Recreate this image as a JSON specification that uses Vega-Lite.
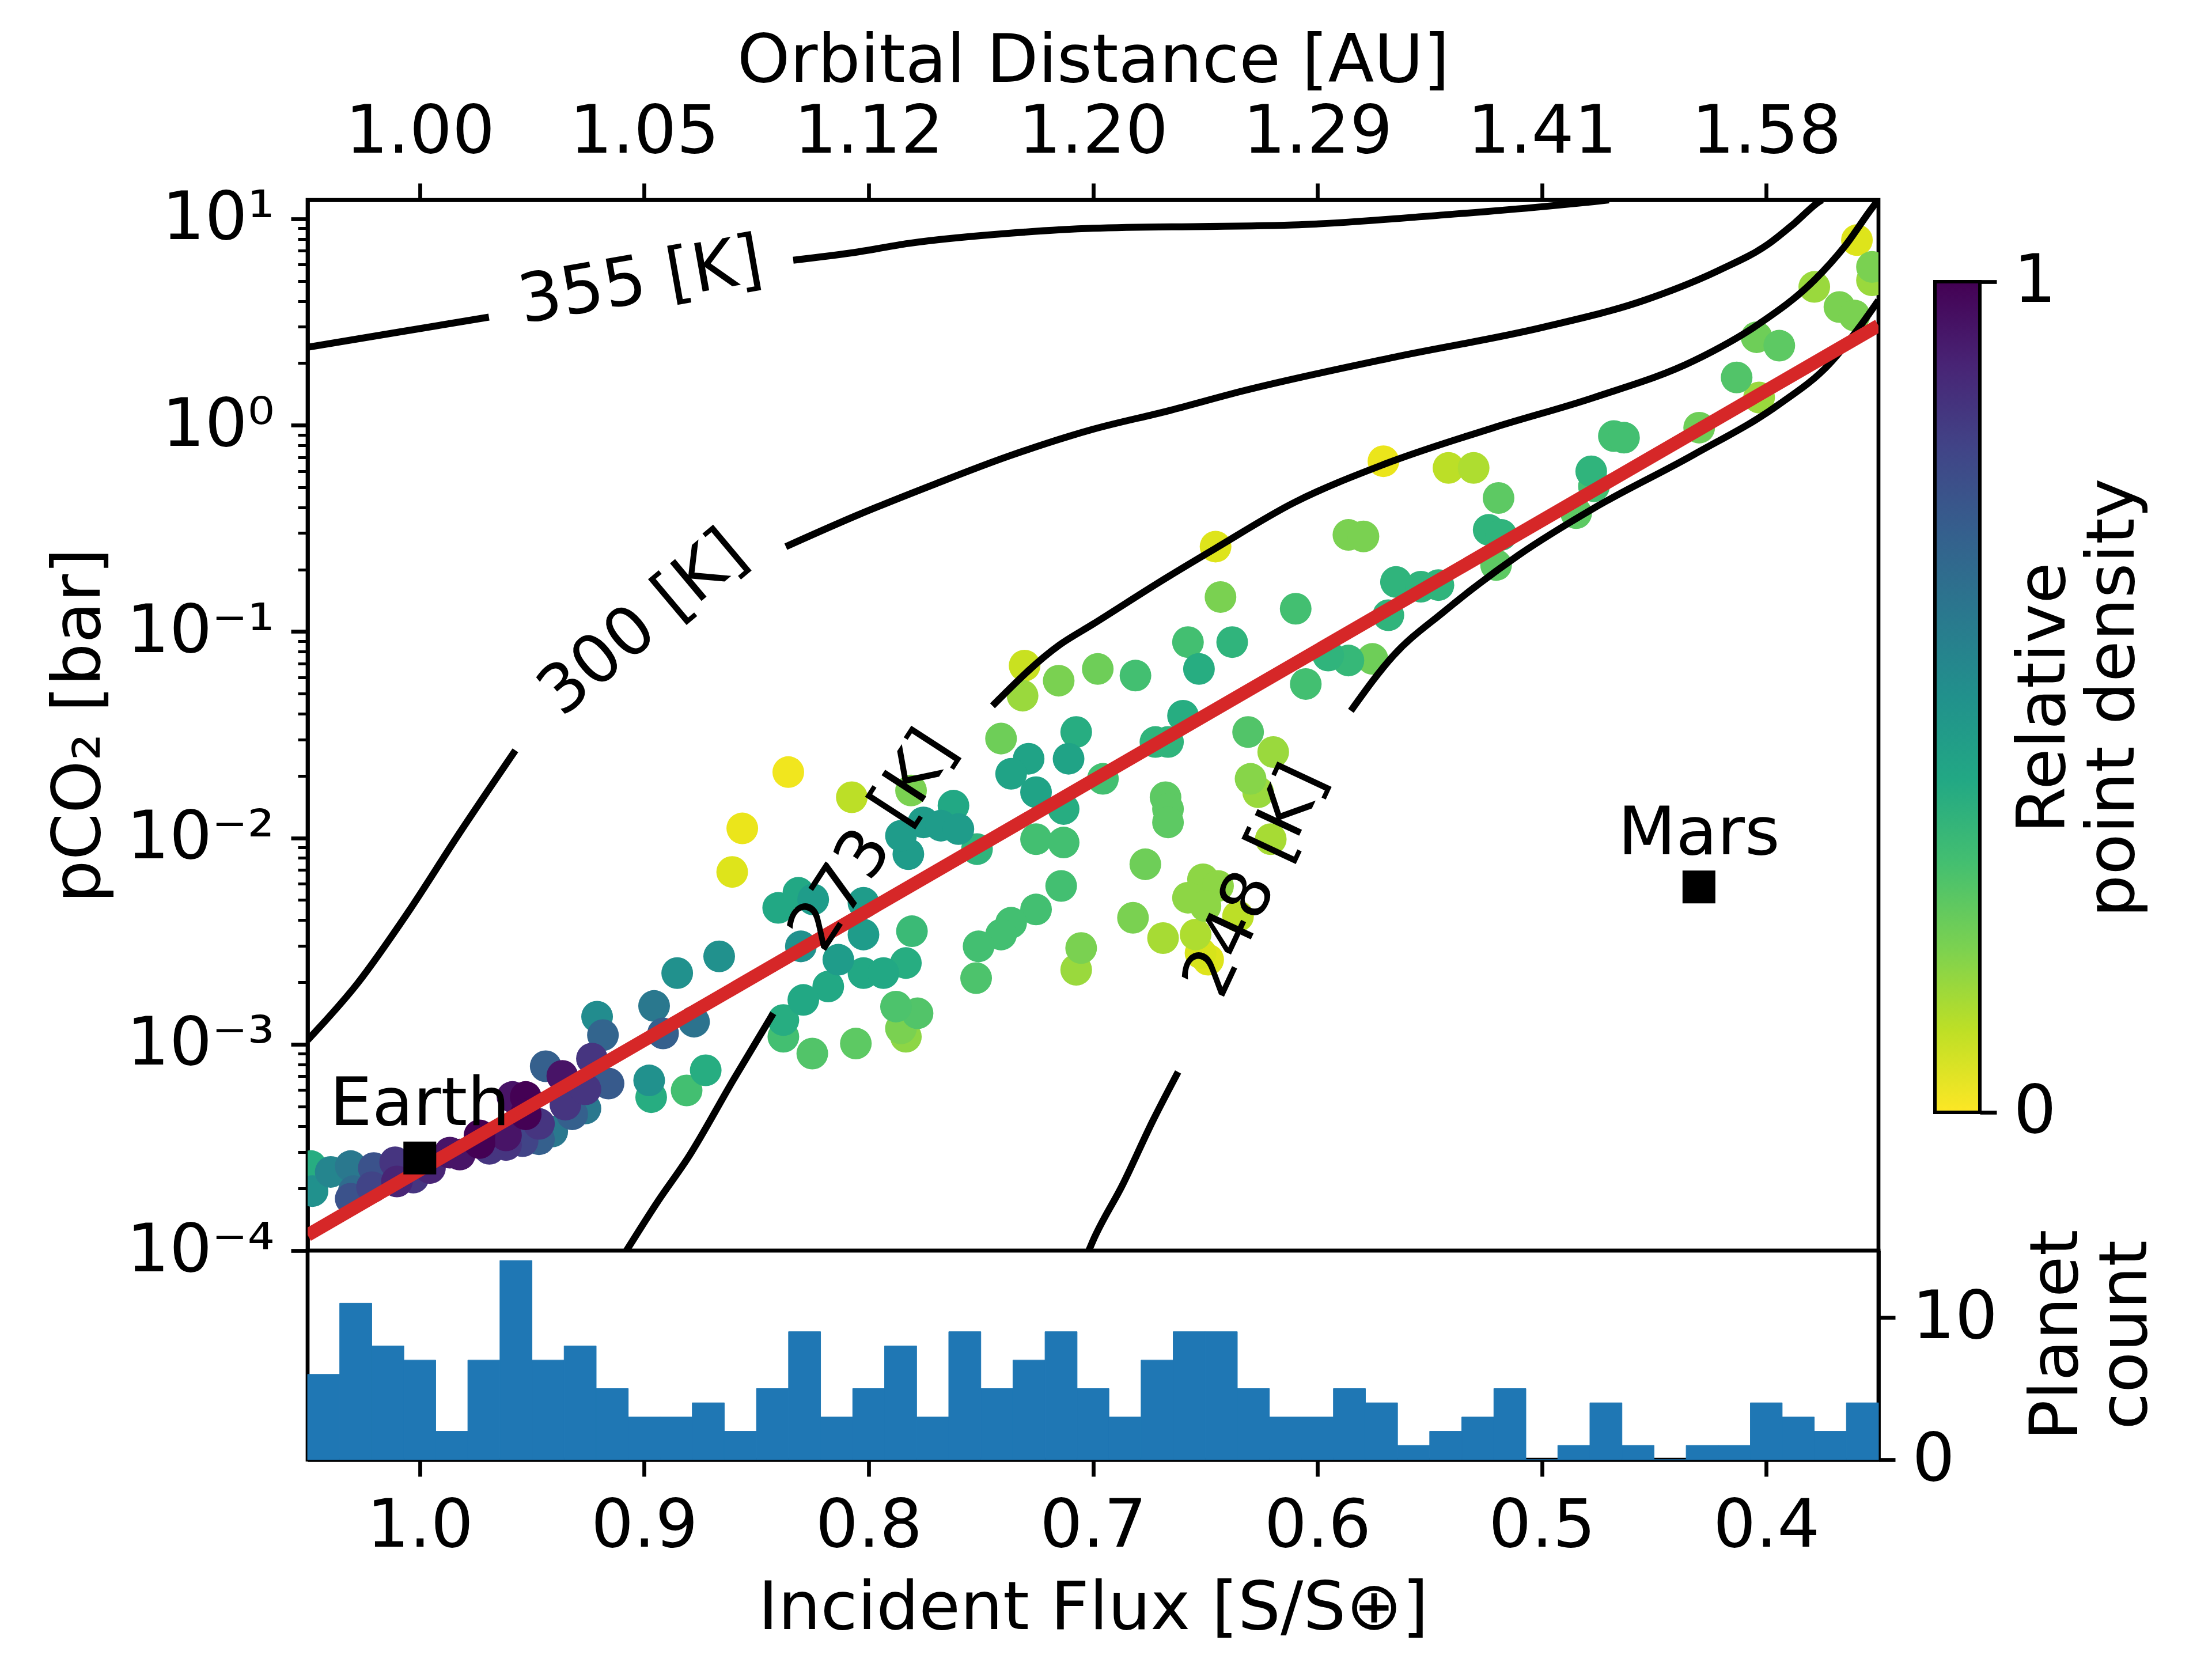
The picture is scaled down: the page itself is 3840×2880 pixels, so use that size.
{
  "$schema": "https://vega.github.io/schema/vega-lite/v6.json",
  "background": "white",
  "padding": {"left": 75, "top": 44, "right": 5, "bottom": 5},
  "columns": 2,
  "spacing": {"row": 0, "column": 98},
  "bounds": "flush",
  "align": "each",
  "config": {
    "font": "DejaVu Sans",
    "view": {"stroke": "black", "strokeWidth": 6.7},
    "axis": {
      "labelFont": "DejaVu Sans", "titleFont": "DejaVu Sans",
      "labelFontSize": 116.7, "titleFontSize": 116.7, "titleFontWeight": "normal",
      "labelColor": "black", "titleColor": "black", "tickColor": "black", "domainColor": "black",
      "tickWidth": 6.7, "domainWidth": 6.7, "tickSize": 29, "labelPadding": 29,
      "labelLimit": 0, "titleLimit": 0,
      "grid": false, "labelFlush": false, "labelOverlap": false, "zindex": 1
    },
    "text": {"font": "DejaVu Sans"}
  },
  "datasets": {
    "points": [
      {"flux": 1.0485, "pco2": 0.0002567, "density": 0.38},
      {"flux": 1.0478, "pco2": 0.0001943, "density": 0.5},
      {"flux": 1.0397, "pco2": 0.0002406, "density": 0.55},
      {"flux": 1.0308, "pco2": 0.0002567, "density": 0.6},
      {"flux": 1.0294, "pco2": 0.0001943, "density": 0.65},
      {"flux": 1.0308, "pco2": 0.0001783, "density": 0.75},
      {"flux": 1.0205, "pco2": 0.0002513, "density": 0.75},
      {"flux": 1.0213, "pco2": 0.0002029, "density": 0.8},
      {"flux": 1.011, "pco2": 0.000268, "density": 0.85},
      {"flux": 1.0102, "pco2": 0.0002163, "density": 0.9},
      {"flux": 1.0029, "pco2": 0.0002258, "density": 0.85},
      {"flux": 0.9955, "pco2": 0.0002513, "density": 0.9},
      {"flux": 0.9866, "pco2": 0.0002983, "density": 0.95},
      {"flux": 0.9822, "pco2": 0.000292, "density": 0.95},
      {"flux": 0.9734, "pco2": 0.0003617, "density": 1.0},
      {"flux": 0.9734, "pco2": 0.000332, "density": 1.0},
      {"flux": 0.969, "pco2": 0.0003113, "density": 0.85},
      {"flux": 0.9616, "pco2": 0.0003249, "density": 0.85},
      {"flux": 0.9616, "pco2": 0.0003617, "density": 0.95},
      {"flux": 0.9587, "pco2": 0.0005553, "density": 0.95},
      {"flux": 0.9528, "pco2": 0.0005553, "density": 1.0},
      {"flux": 0.9528, "pco2": 0.0004577, "density": 1.0},
      {"flux": 0.9469, "pco2": 0.0004112, "density": 0.85},
      {"flux": 0.9469, "pco2": 0.0003465, "density": 0.7},
      {"flux": 0.9542, "pco2": 0.0003392, "density": 0.8},
      {"flux": 0.941, "pco2": 0.0003776, "density": 0.6},
      {"flux": 0.9439, "pco2": 0.0007823, "density": 0.7},
      {"flux": 0.9365, "pco2": 0.0007026, "density": 0.95},
      {"flux": 0.9351, "pco2": 0.0005095, "density": 0.85},
      {"flux": 0.9321, "pco2": 0.0004577, "density": 0.7},
      {"flux": 0.9262, "pco2": 0.0004882, "density": 0.6},
      {"flux": 0.9233, "pco2": 0.000852, "density": 0.85},
      {"flux": 0.9262, "pco2": 0.000605, "density": 0.85},
      {"flux": 0.9159, "pco2": 0.000645, "density": 0.72},
      {"flux": 0.9184, "pco2": 0.001107, "density": 0.68},
      {"flux": 0.921, "pco2": 0.00136, "density": 0.52},
      {"flux": 0.8956, "pco2": 0.001533, "density": 0.6},
      {"flux": 0.8916, "pco2": 0.001128, "density": 0.7},
      {"flux": 0.8778, "pco2": 0.001286, "density": 0.62},
      {"flux": 0.8853, "pco2": 0.002212, "density": 0.5},
      {"flux": 0.8666, "pco2": 0.002666, "density": 0.5},
      {"flux": 0.8978, "pco2": 0.000668, "density": 0.5},
      {"flux": 0.8969, "pco2": 0.000554, "density": 0.38},
      {"flux": 0.8811, "pco2": 0.000597, "density": 0.3},
      {"flux": 0.8726, "pco2": 0.000748, "density": 0.38},
      {"flux": 0.8358, "pco2": 0.02084, "density": 0.02},
      {"flux": 0.8075, "pco2": 0.01574, "density": 0.1},
      {"flux": 0.8563, "pco2": 0.01112, "density": 0.03},
      {"flux": 0.8608, "pco2": 0.00684, "density": 0.05},
      {"flux": 0.7811, "pco2": 0.01697, "density": 0.2},
      {"flux": 0.8403, "pco2": 0.00458, "density": 0.4},
      {"flux": 0.8313, "pco2": 0.00542, "density": 0.4},
      {"flux": 0.8247, "pco2": 0.00503, "density": 0.45},
      {"flux": 0.8302, "pco2": 0.002981, "density": 0.5},
      {"flux": 0.8023, "pco2": 0.00485, "density": 0.45},
      {"flux": 0.8023, "pco2": 0.0034, "density": 0.45},
      {"flux": 0.8135, "pco2": 0.002568, "density": 0.45},
      {"flux": 0.8023, "pco2": 0.002212, "density": 0.4},
      {"flux": 0.7934, "pco2": 0.002212, "density": 0.4},
      {"flux": 0.7834, "pco2": 0.002474, "density": 0.38},
      {"flux": 0.818, "pco2": 0.001904, "density": 0.4},
      {"flux": 0.8291, "pco2": 0.00164, "density": 0.4},
      {"flux": 0.838, "pco2": 0.00131, "density": 0.38},
      {"flux": 0.838, "pco2": 0.001087, "density": 0.3},
      {"flux": 0.8251, "pco2": 0.000901, "density": 0.27},
      {"flux": 0.8057, "pco2": 0.001008, "density": 0.25},
      {"flux": 0.7878, "pco2": 0.001522, "density": 0.28},
      {"flux": 0.7782, "pco2": 0.001412, "density": 0.27},
      {"flux": 0.7856, "pco2": 0.001193, "density": 0.2},
      {"flux": 0.7834, "pco2": 0.001087, "density": 0.17},
      {"flux": 0.7807, "pco2": 0.00353, "density": 0.32},
      {"flux": 0.7823, "pco2": 0.00834, "density": 0.45},
      {"flux": 0.7856, "pco2": 0.01024, "density": 0.45},
      {"flux": 0.7756, "pco2": 0.01189, "density": 0.45},
      {"flux": 0.7678, "pco2": 0.01146, "density": 0.45},
      {"flux": 0.7622, "pco2": 0.01433, "density": 0.4},
      {"flux": 0.76, "pco2": 0.01103, "density": 0.45},
      {"flux": 0.7517, "pco2": 0.00882, "density": 0.35},
      {"flux": 0.741, "pco2": 0.0303, "density": 0.22},
      {"flux": 0.7287, "pco2": 0.02419, "density": 0.42},
      {"flux": 0.7365, "pco2": 0.02045, "density": 0.42},
      {"flux": 0.7254, "pco2": 0.01665, "density": 0.42},
      {"flux": 0.7109, "pco2": 0.02419, "density": 0.42},
      {"flux": 0.7075, "pco2": 0.0326, "density": 0.38},
      {"flux": 0.7131, "pco2": 0.01381, "density": 0.38},
      {"flux": 0.7254, "pco2": 0.00986, "density": 0.3},
      {"flux": 0.7131, "pco2": 0.0095, "density": 0.3},
      {"flux": 0.7142, "pco2": 0.00585, "density": 0.3},
      {"flux": 0.7254, "pco2": 0.0045, "density": 0.3},
      {"flux": 0.7365, "pco2": 0.00388, "density": 0.3},
      {"flux": 0.741, "pco2": 0.0034, "density": 0.3},
      {"flux": 0.751, "pco2": 0.002981, "density": 0.3},
      {"flux": 0.7521, "pco2": 0.002091, "density": 0.28},
      {"flux": 0.7053, "pco2": 0.002926, "density": 0.2},
      {"flux": 0.7075, "pco2": 0.002295, "density": 0.15},
      {"flux": 0.7305, "pco2": 0.0684, "density": 0.08},
      {"flux": 0.7314, "pco2": 0.0489, "density": 0.15},
      {"flux": 0.7153, "pco2": 0.0578, "density": 0.2},
      {"flux": 0.3596, "pco2": 7.89, "density": 0.05},
      {"flux": 0.3529, "pco2": 5.85, "density": 0.2},
      {"flux": 0.3529, "pco2": 5.04, "density": 0.15},
      {"flux": 0.3786, "pco2": 4.68, "density": 0.15},
      {"flux": 0.3674, "pco2": 3.74, "density": 0.2},
      {"flux": 0.3607, "pco2": 3.4, "density": 0.2},
      {"flux": 0.4043, "pco2": 2.67, "density": 0.22},
      {"flux": 0.3942, "pco2": 2.43, "density": 0.25},
      {"flux": 0.4132, "pco2": 1.704, "density": 0.27},
      {"flux": 0.4032, "pco2": 1.362, "density": 0.15},
      {"flux": 0.4299, "pco2": 0.973, "density": 0.22},
      {"flux": 0.4679, "pco2": 0.886, "density": 0.3},
      {"flux": 0.4634, "pco2": 0.87, "density": 0.3},
      {"flux": 0.478, "pco2": 0.598, "density": 0.35},
      {"flux": 0.4768, "pco2": 0.506, "density": 0.3},
      {"flux": 0.4847, "pco2": 0.375, "density": 0.25},
      {"flux": 0.5706, "pco2": 0.669, "density": 0.03},
      {"flux": 0.5416, "pco2": 0.621, "density": 0.1},
      {"flux": 0.5304, "pco2": 0.621, "density": 0.12},
      {"flux": 0.5193, "pco2": 0.444, "density": 0.25},
      {"flux": 0.5237, "pco2": 0.311, "density": 0.35},
      {"flux": 0.5181, "pco2": 0.294, "density": 0.35},
      {"flux": 0.5204, "pco2": 0.21, "density": 0.25},
      {"flux": 0.6454, "pco2": 0.258, "density": 0.05},
      {"flux": 0.5862, "pco2": 0.294, "density": 0.2},
      {"flux": 0.5795, "pco2": 0.289, "density": 0.2},
      {"flux": 0.6432, "pco2": 0.147, "density": 0.2},
      {"flux": 0.6097, "pco2": 0.129, "density": 0.3},
      {"flux": 0.565, "pco2": 0.174, "density": 0.35},
      {"flux": 0.5539, "pco2": 0.165, "density": 0.35},
      {"flux": 0.5461, "pco2": 0.168, "density": 0.35},
      {"flux": 0.5684, "pco2": 0.12, "density": 0.35},
      {"flux": 0.6577, "pco2": 0.0889, "density": 0.3},
      {"flux": 0.638, "pco2": 0.0889, "density": 0.35},
      {"flux": 0.6528, "pco2": 0.0659, "density": 0.38},
      {"flux": 0.6811, "pco2": 0.0612, "density": 0.3},
      {"flux": 0.6979, "pco2": 0.0659, "density": 0.22},
      {"flux": 0.5952, "pco2": 0.0765, "density": 0.35},
      {"flux": 0.5862, "pco2": 0.0724, "density": 0.33},
      {"flux": 0.5755, "pco2": 0.0737, "density": 0.22},
      {"flux": 0.6052, "pco2": 0.0557, "density": 0.3},
      {"flux": 0.6599, "pco2": 0.0391, "density": 0.38},
      {"flux": 0.6722, "pco2": 0.02917, "density": 0.35},
      {"flux": 0.6666, "pco2": 0.02917, "density": 0.35},
      {"flux": 0.6956, "pco2": 0.01933, "density": 0.3},
      {"flux": 0.6309, "pco2": 0.0326, "density": 0.27},
      {"flux": 0.6197, "pco2": 0.02607, "density": 0.15},
      {"flux": 0.6298, "pco2": 0.01933, "density": 0.18},
      {"flux": 0.6264, "pco2": 0.01665, "density": 0.15},
      {"flux": 0.6677, "pco2": 0.01574, "density": 0.25},
      {"flux": 0.6666, "pco2": 0.01381, "density": 0.25},
      {"flux": 0.6666, "pco2": 0.01189, "density": 0.25},
      {"flux": 0.6767, "pco2": 0.00745, "density": 0.22},
      {"flux": 0.6208, "pco2": 0.00986, "density": 0.13},
      {"flux": 0.651, "pco2": 0.0063, "density": 0.17},
      {"flux": 0.6443, "pco2": 0.00585, "density": 0.17},
      {"flux": 0.6577, "pco2": 0.00513, "density": 0.17},
      {"flux": 0.6499, "pco2": 0.00467, "density": 0.17},
      {"flux": 0.6354, "pco2": 0.00417, "density": 0.1},
      {"flux": 0.6822, "pco2": 0.0041, "density": 0.2},
      {"flux": 0.6688, "pco2": 0.00327, "density": 0.13},
      {"flux": 0.6543, "pco2": 0.0034, "density": 0.12},
      {"flux": 0.6521, "pco2": 0.002767, "density": 0.06},
      {"flux": 0.6487, "pco2": 0.002568, "density": 0.05}
    ],
    "contours": [
      {"seg": "355a", "ord": 1, "flux": 1.05, "pco2": 2.386},
      {"seg": "355a", "ord": 2, "flux": 1.0098, "pco2": 2.823},
      {"seg": "355a", "ord": 3, "flux": 0.9692, "pco2": 3.341},
      {"seg": "355b", "ord": 1, "flux": 0.8336, "pco2": 6.306},
      {"seg": "355b", "ord": 2, "flux": 0.8046, "pco2": 6.92},
      {"seg": "355b", "ord": 3, "flux": 0.7823, "pco2": 7.6},
      {"seg": "355b", "ord": 4, "flux": 0.7376, "pco2": 8.51},
      {"seg": "355b", "ord": 5, "flux": 0.7001, "pco2": 9.0},
      {"seg": "355b", "ord": 6, "flux": 0.6108, "pco2": 9.34},
      {"seg": "355b", "ord": 7, "flux": 0.5438, "pco2": 10.45},
      {"seg": "355b", "ord": 8, "flux": 0.4992, "pco2": 11.47},
      {"seg": "355b", "ord": 9, "flux": 0.4768, "pco2": 12.13},
      {"seg": "355b", "ord": 10, "flux": 0.4701, "pco2": 12.36},
      {"seg": "300a", "ord": 1, "flux": 1.05, "pco2": 0.001047},
      {"seg": "300a", "ord": 2, "flux": 1.0277, "pco2": 0.001976},
      {"seg": "300a", "ord": 3, "flux": 1.0054, "pco2": 0.004333},
      {"seg": "300a", "ord": 4, "flux": 0.9831, "pco2": 0.01024},
      {"seg": "300a", "ord": 5, "flux": 0.9574, "pco2": 0.02656},
      {"seg": "300b", "ord": 1, "flux": 0.8369, "pco2": 0.258},
      {"seg": "300b", "ord": 2, "flux": 0.8046, "pco2": 0.3681},
      {"seg": "300b", "ord": 3, "flux": 0.7711, "pco2": 0.5153},
      {"seg": "300b", "ord": 4, "flux": 0.7376, "pco2": 0.7079},
      {"seg": "300b", "ord": 5, "flux": 0.7001, "pco2": 0.955},
      {"seg": "300b", "ord": 6, "flux": 0.6666, "pco2": 1.173},
      {"seg": "300b", "ord": 7, "flux": 0.6331, "pco2": 1.467},
      {"seg": "300b", "ord": 8, "flux": 0.5661, "pco2": 2.133},
      {"seg": "300b", "ord": 9, "flux": 0.4992, "pco2": 2.987},
      {"seg": "300b", "ord": 10, "flux": 0.4545, "pco2": 4.027},
      {"seg": "300b", "ord": 11, "flux": 0.421, "pco2": 5.638},
      {"seg": "300b", "ord": 12, "flux": 0.3987, "pco2": 7.6},
      {"seg": "300b", "ord": 13, "flux": 0.3875, "pco2": 9.51},
      {"seg": "300b", "ord": 14, "flux": 0.3764, "pco2": 12.13},
      {"seg": "300b", "ord": 15, "flux": 0.3752, "pco2": 12.36},
      {"seg": "273a", "ord": 1, "flux": 0.9079, "pco2": 0.0001},
      {"seg": "273a", "ord": 2, "flux": 0.8938, "pco2": 0.000174},
      {"seg": "273a", "ord": 3, "flux": 0.8804, "pco2": 0.0002828},
      {"seg": "273a", "ord": 4, "flux": 0.8604, "pco2": 0.0006683},
      {"seg": "273a", "ord": 5, "flux": 0.8425, "pco2": 0.001412},
      {"seg": "273b", "ord": 1, "flux": 0.7448, "pco2": 0.0437},
      {"seg": "273b", "ord": 2, "flux": 0.7153, "pco2": 0.0856},
      {"seg": "273b", "ord": 3, "flux": 0.7001, "pco2": 0.1085},
      {"seg": "273b", "ord": 4, "flux": 0.6666, "pco2": 0.1842},
      {"seg": "273b", "ord": 5, "flux": 0.6454, "pco2": 0.2532},
      {"seg": "273b", "ord": 6, "flux": 0.6108, "pco2": 0.4196},
      {"seg": "273b", "ord": 7, "flux": 0.5706, "pco2": 0.6447},
      {"seg": "273b", "ord": 8, "flux": 0.5215, "pco2": 0.9728},
      {"seg": "273b", "ord": 9, "flux": 0.4768, "pco2": 1.362},
      {"seg": "273b", "ord": 10, "flux": 0.4322, "pco2": 2.054},
      {"seg": "273b", "ord": 11, "flux": 0.4032, "pco2": 3.1},
      {"seg": "273b", "ord": 12, "flux": 0.3786, "pco2": 5.04},
      {"seg": "273b", "ord": 13, "flux": 0.3652, "pco2": 7.32},
      {"seg": "273b", "ord": 14, "flux": 0.3518, "pco2": 11.69},
      {"seg": "273b", "ord": 15, "flux": 0.35, "pco2": 12.36},
      {"seg": "248a", "ord": 1, "flux": 0.7019, "pco2": 0.0001},
      {"seg": "248a", "ord": 2, "flux": 0.7001, "pco2": 0.0001111},
      {"seg": "248a", "ord": 3, "flux": 0.6867, "pco2": 0.0002098},
      {"seg": "248a", "ord": 4, "flux": 0.6733, "pco2": 0.0004267},
      {"seg": "248a", "ord": 5, "flux": 0.6621, "pco2": 0.000734},
      {"seg": "248b", "ord": 1, "flux": 0.5851, "pco2": 0.0413},
      {"seg": "248b", "ord": 2, "flux": 0.5661, "pco2": 0.0766},
      {"seg": "248b", "ord": 3, "flux": 0.5438, "pco2": 0.1245},
      {"seg": "248b", "ord": 4, "flux": 0.5103, "pco2": 0.235},
      {"seg": "248b", "ord": 5, "flux": 0.4768, "pco2": 0.3965},
      {"seg": "248b", "ord": 6, "flux": 0.4322, "pco2": 0.7211},
      {"seg": "248b", "ord": 7, "flux": 0.3942, "pco2": 1.264},
      {"seg": "248b", "ord": 8, "flux": 0.3719, "pco2": 1.979},
      {"seg": "248b", "ord": 9, "flux": 0.3585, "pco2": 2.987},
      {"seg": "248b", "ord": 10, "flux": 0.35, "pco2": 4.027}
    ],
    "clabels": [
      {"T": "355 [K]", "flux": 0.9016, "pco2": 4.95},
      {"T": "300 [K]", "flux": 0.9005, "pco2": 0.1092},
      {"T": "273 [K]", "flux": 0.7979, "pco2": 0.00968},
      {"T": "248 [K]", "flux": 0.6275, "pco2": 0.00618}
    ],
    "fit": [
      {"flux": 1.05, "pco2": 0.000119},
      {"flux": 0.35, "pco2": 3.04}
    ],
    "planets": [
      {"name": "Earth", "flux": 1.0, "pco2": 0.000281},
      {"name": "Mars", "flux": 0.43, "pco2": 0.00578}
    ],
    "hist": [
      {"b0": 1.05, "b1": 1.0357, "count": 6},
      {"b0": 1.0357, "b1": 1.0214, "count": 11},
      {"b0": 1.0214, "b1": 1.0071, "count": 8},
      {"b0": 1.0071, "b1": 0.9929, "count": 7},
      {"b0": 0.9929, "b1": 0.9786, "count": 2},
      {"b0": 0.9786, "b1": 0.9643, "count": 7},
      {"b0": 0.9643, "b1": 0.95, "count": 14},
      {"b0": 0.95, "b1": 0.9357, "count": 7},
      {"b0": 0.9357, "b1": 0.9214, "count": 8},
      {"b0": 0.9214, "b1": 0.9071, "count": 5},
      {"b0": 0.9071, "b1": 0.8929, "count": 3},
      {"b0": 0.8929, "b1": 0.8786, "count": 3},
      {"b0": 0.8786, "b1": 0.8643, "count": 4},
      {"b0": 0.8643, "b1": 0.85, "count": 2},
      {"b0": 0.85, "b1": 0.8357, "count": 5},
      {"b0": 0.8357, "b1": 0.8214, "count": 9},
      {"b0": 0.8214, "b1": 0.8071, "count": 3},
      {"b0": 0.8071, "b1": 0.7929, "count": 5},
      {"b0": 0.7929, "b1": 0.7786, "count": 8},
      {"b0": 0.7786, "b1": 0.7643, "count": 3},
      {"b0": 0.7643, "b1": 0.75, "count": 9},
      {"b0": 0.75, "b1": 0.7357, "count": 5},
      {"b0": 0.7357, "b1": 0.7214, "count": 7},
      {"b0": 0.7214, "b1": 0.7071, "count": 9},
      {"b0": 0.7071, "b1": 0.6929, "count": 5},
      {"b0": 0.6929, "b1": 0.6786, "count": 3},
      {"b0": 0.6786, "b1": 0.6643, "count": 7},
      {"b0": 0.6643, "b1": 0.65, "count": 9},
      {"b0": 0.65, "b1": 0.6357, "count": 9},
      {"b0": 0.6357, "b1": 0.6214, "count": 5},
      {"b0": 0.6214, "b1": 0.6071, "count": 3},
      {"b0": 0.6071, "b1": 0.5929, "count": 3},
      {"b0": 0.5929, "b1": 0.5786, "count": 5},
      {"b0": 0.5786, "b1": 0.5643, "count": 4},
      {"b0": 0.5643, "b1": 0.55, "count": 1},
      {"b0": 0.55, "b1": 0.5357, "count": 2},
      {"b0": 0.5357, "b1": 0.5214, "count": 3},
      {"b0": 0.5214, "b1": 0.5071, "count": 5},
      {"b0": 0.5071, "b1": 0.4929, "count": 0},
      {"b0": 0.4929, "b1": 0.4786, "count": 1},
      {"b0": 0.4786, "b1": 0.4643, "count": 4},
      {"b0": 0.4643, "b1": 0.45, "count": 1},
      {"b0": 0.45, "b1": 0.4357, "count": 0},
      {"b0": 0.4357, "b1": 0.4214, "count": 1},
      {"b0": 0.4214, "b1": 0.4071, "count": 1},
      {"b0": 0.4071, "b1": 0.3929, "count": 4},
      {"b0": 0.3929, "b1": 0.3786, "count": 3},
      {"b0": 0.3786, "b1": 0.3643, "count": 2},
      {"b0": 0.3643, "b1": 0.35, "count": 4}
    ]
  },
  "concat": [
    {
      "width": 2727,
      "height": 1824,
      "encoding": {
        "x": {
          "field": "flux", "type": "quantitative",
          "scale": {"domain": [0.35, 1.05], "reverse": true, "nice": false, "zero": false},
          "axis": {
            "orient": "top", "title": "Orbital Distance [AU]",
            "values": [1.0, 0.9, 0.8, 0.7, 0.6, 0.5, 0.4],
            "labelExpr": "format(1/sqrt(datum.value), '.2f')",
            "titlePadding": 5
          }
        },
        "y": {
          "field": "pco2", "type": "quantitative",
          "scale": {"type": "log", "domain": [0.0001, 12.36], "nice": false},
          "axis": {
            "title": "pCO₂ [bar]",
            "values": [0.0001, 0.0002, 0.0003, 0.0004, 0.0005, 0.0006, 0.0007, 0.0008, 0.0009,
                       0.001, 0.002, 0.003, 0.004, 0.005, 0.006, 0.007, 0.008, 0.009,
                       0.01, 0.02, 0.03, 0.04, 0.05, 0.06, 0.07, 0.08, 0.09,
                       0.1, 0.2, 0.3, 0.4, 0.5, 0.6, 0.7, 0.8, 0.9,
                       1, 2, 3, 4, 5, 6, 7, 8, 9, 10],
            "labelExpr": "abs(log(datum.value)/LN10 - round(log(datum.value)/LN10)) < 0.001 ? '10' + replace(replace(replace(replace(replace(replace('' + round(log(datum.value)/LN10), '-', '⁻'), '0', '⁰'), '1', '¹'), '2', '²'), '3', '³'), '4', '⁴') : ''",
            "tickSize": {"condition": {"test": "abs(log(datum.value)/LN10 - round(log(datum.value)/LN10)) < 0.001", "value": 29}, "value": 17},
            "tickWidth": {"condition": {"test": "abs(log(datum.value)/LN10 - round(log(datum.value)/LN10)) < 0.001", "value": 6.7}, "value": 5},
            "titlePadding": 137
          }
        }
      },
      "layer": [
        {
          "data": {"name": "points"},
          "mark": {"type": "circle", "size": 3025, "opacity": 1, "clip": true},
          "encoding": {
            "color": {"field": "density", "type": "quantitative", "scale": {"scheme": "viridis", "reverse": true, "domain": [0, 1]}, "legend": null},
            "order": {"field": "density", "type": "quantitative"}
          }
        },
        {
          "data": {"name": "contours"},
          "mark": {"type": "line", "color": "black", "strokeWidth": 12, "interpolate": "monotone", "clip": true},
          "encoding": {
            "detail": {"field": "seg", "type": "nominal"},
            "order": {"field": "ord", "type": "quantitative"}
          }
        },
        {
          "data": {"name": "fit"},
          "mark": {"type": "line", "color": "#d62728", "strokeWidth": 23, "clip": true},
          "encoding": {}
        },
        {
          "data": {"name": "planets"},
          "mark": {"type": "point", "shape": "square", "filled": true, "color": "black", "size": 3250, "opacity": 1},
          "encoding": {}
        },
        {
          "data": {"name": "planets"},
          "mark": {"type": "text", "align": "center", "baseline": "alphabetic", "dy": -57, "fontSize": 116.7, "color": "black"},
          "encoding": {"text": {"field": "name"}}
        },
        {
          "data": {"name": "clabels"},
          "transform": [{"filter": "datum.T == '355 [K]'"}],
          "mark": {"type": "text", "align": "center", "baseline": "middle", "angle": 350, "fontSize": 116.7, "color": "black"},
          "encoding": {"text": {"field": "T"}}
        },
        {
          "data": {"name": "clabels"},
          "transform": [{"filter": "datum.T == '300 [K]'"}],
          "mark": {"type": "text", "align": "center", "baseline": "middle", "angle": 320, "fontSize": 116.7, "color": "black"},
          "encoding": {"text": {"field": "T"}}
        },
        {
          "data": {"name": "clabels"},
          "transform": [{"filter": "datum.T == '273 [K]'"}],
          "mark": {"type": "text", "align": "center", "baseline": "middle", "angle": 303, "fontSize": 116.7, "color": "black"},
          "encoding": {"text": {"field": "T"}}
        },
        {
          "data": {"name": "clabels"},
          "transform": [{"filter": "datum.T == '248 [K]'"}],
          "mark": {"type": "text", "align": "center", "baseline": "middle", "angle": 295, "fontSize": 116.7, "color": "black"},
          "encoding": {"text": {"field": "T"}}
        }
      ]
    },
    {
      "width": 78,
      "height": 1824,
      "view": {"stroke": null},
      "data": {"values": [{"d0": 0, "d1": 1}]},
      "mark": {
        "type": "rect",
        "fill": {
          "gradient": "linear", "x1": 0, "y1": 0, "x2": 0, "y2": 1,
          "stops": [
            {"offset": 0, "color": "#440154"},
            {"offset": 0.1, "color": "#482475"},
            {"offset": 0.2, "color": "#414487"},
            {"offset": 0.3, "color": "#355f8d"},
            {"offset": 0.4, "color": "#2a788e"},
            {"offset": 0.5, "color": "#21918c"},
            {"offset": 0.6, "color": "#22a884"},
            {"offset": 0.7, "color": "#44bf70"},
            {"offset": 0.8, "color": "#7ad151"},
            {"offset": 0.9, "color": "#bddf26"},
            {"offset": 1, "color": "#fde725"}
          ]
        },
        "stroke": "black",
        "strokeWidth": 6
      },
      "encoding": {
        "x": {"field": "d0", "type": "quantitative", "scale": {"domain": [0, 1], "nice": false, "zero": false}, "axis": null},
        "x2": {"field": "d1"},
        "y": {
          "field": "d0", "type": "quantitative",
          "scale": {"domain": [-0.16644, 1.09847], "nice": false, "zero": false},
          "axis": {
            "orient": "right", "values": [0, 1], "format": "d", "domain": false,
            "title": ["Relative", "point density"],
            "titleAngle": 270, "titleBaseline": "top", "titleAlign": "center",
            "titleX": 54, "titleY": 864, "titleLineHeight": 120
          }
        },
        "y2": {"field": "d1"}
      }
    },
    {
      "width": 2727,
      "height": 363,
      "data": {"name": "hist"},
      "mark": {"type": "rect", "color": "#1f77b4", "stroke": "#1f77b4", "strokeWidth": 1},
      "encoding": {
        "x": {
          "field": "b0", "type": "quantitative",
          "scale": {"domain": [0.35, 1.05], "reverse": true, "nice": false, "zero": false},
          "axis": {
            "orient": "bottom", "title": "Incident Flux [S/S⊕]",
            "values": [1.0, 0.9, 0.8, 0.7, 0.6, 0.5, 0.4], "format": ".1f",
            "titlePadding": 28
          }
        },
        "x2": {"field": "b1"},
        "y": {
          "field": "count", "type": "quantitative",
          "scale": {"domain": [0, 14.7], "nice": false, "zero": true},
          "axis": {
            "orient": "right", "values": [0, 10], "format": "d",
            "title": ["Planet", "count"],
            "titleAngle": 270, "titleBaseline": "top", "titleAlign": "center",
            "titleX": 252, "titleY": 146, "titleLineHeight": 120
          }
        },
        "y2": {"datum": 0}
      }
    }
  ]
}
